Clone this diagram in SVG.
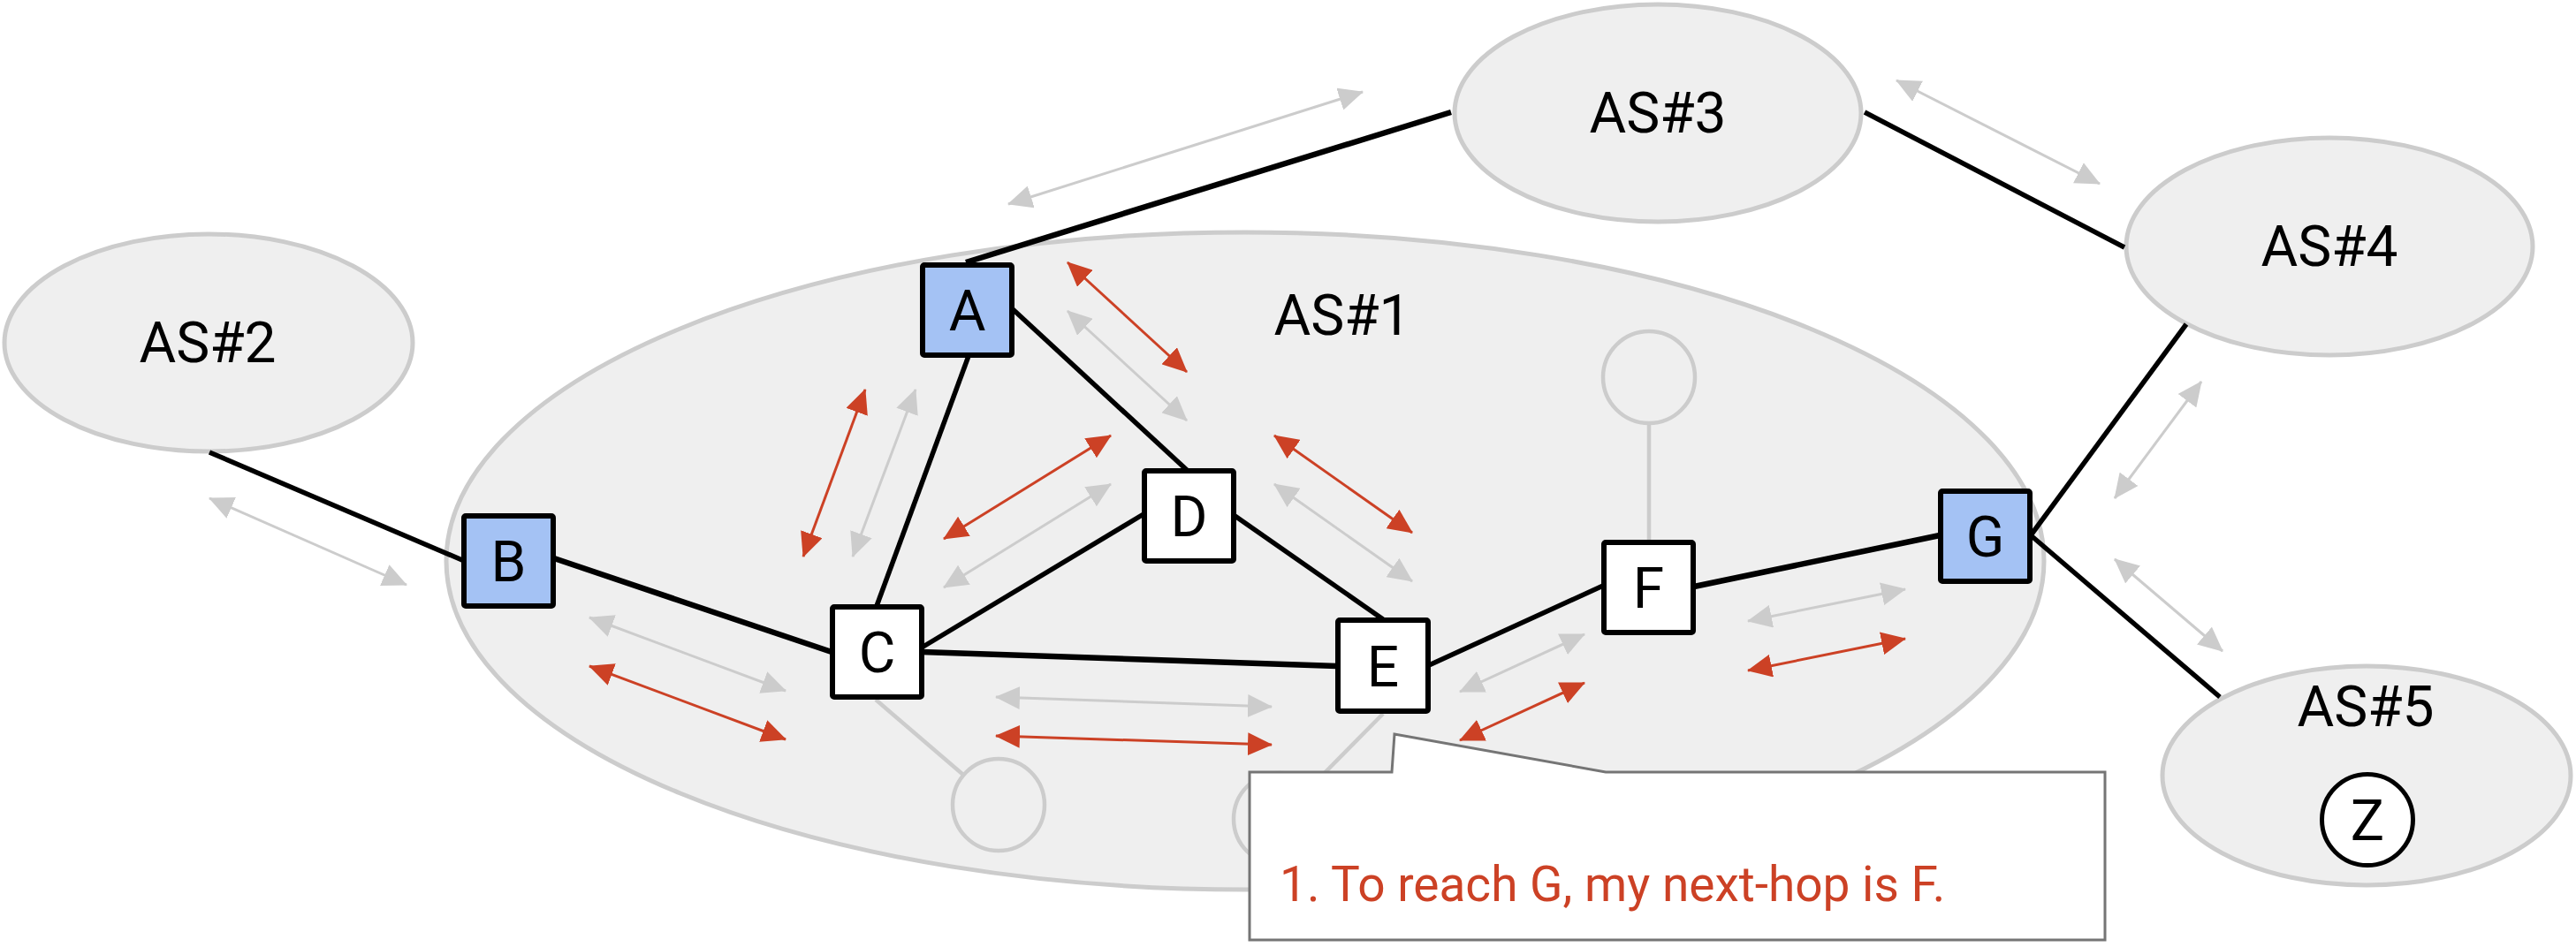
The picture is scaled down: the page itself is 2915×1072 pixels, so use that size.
<svg xmlns="http://www.w3.org/2000/svg" width="2915" height="1072" viewBox="0 0 2915 1072">
<style>
.as{fill:#efefef;stroke:#cccccc;stroke-width:5}
.sc{fill:#efefef;stroke:#cccccc;stroke-width:4.5}
.gl{stroke:#cccccc;stroke-width:4.5;fill:none}
.bl{stroke:#000;stroke-width:5.5;fill:none}
.bt{stroke:#000;stroke-width:6.5;fill:none}
.ag{stroke:#cccccc;stroke-width:3;fill:none;marker-start:url(#hg);marker-end:url(#hg)}
.ar{stroke:#cc4125;stroke-width:3;fill:none;marker-start:url(#hr);marker-end:url(#hr)}
.nb{fill:#a4c2f4;stroke:#000;stroke-width:6}
.nw{fill:#ffffff;stroke:#000;stroke-width:6}
.t{font-family:Roboto,"Liberation Sans",sans-serif;font-size:64px;fill:#000;text-anchor:middle}
.ct{font-family:Roboto,"Liberation Sans",sans-serif;font-size:55px;fill:#cc4125}
</style>
<defs>
<marker id="hg" viewBox="0 0 28 26" refX="27" refY="13" markerWidth="28" markerHeight="26" markerUnits="userSpaceOnUse" orient="auto-start-reverse"><path d="M0,0 L28,13 L0,26 z" fill="#cccccc"/></marker>
<marker id="hr" viewBox="0 0 28 26" refX="27" refY="13" markerWidth="28" markerHeight="26" markerUnits="userSpaceOnUse" orient="auto-start-reverse"><path d="M0,0 L28,13 L0,26 z" fill="#cc4125"/></marker>
</defs>
<g id="as1"><ellipse class="as" cx="1409" cy="635" rx="904" ry="372"/><text class="t" x="1519" y="379">AS#1</text></g>
<g id="as2"><ellipse class="as" cx="236" cy="388" rx="231" ry="123"/><text class="t" x="235" y="410">AS#2</text></g>
<g id="as3"><ellipse class="as" cx="1876" cy="128" rx="230" ry="123"/><text class="t" x="1876" y="150">AS#3</text></g>
<g id="as4"><ellipse class="as" cx="2636" cy="279" rx="230" ry="123"/><text class="t" x="2636" y="301">AS#4</text></g>
<g id="as5"><ellipse class="as" cx="2678" cy="878" rx="231" ry="124"/><text class="t" x="2677" y="822">AS#5</text></g>
<g id="z"><circle cx="2679" cy="928" r="51.5" fill="#fff" stroke="#000" stroke-width="5"/><text class="t" x="2679" y="951">Z</text></g>
<g id="stubs">
<line class="gl" x1="1866" y1="479" x2="1866" y2="611"/>
<line class="gl" x1="991" y1="792" x2="1090" y2="877"/>
<line class="gl" x1="1565" y1="808" x2="1484" y2="890"/>
</g>
<g id="c1"><circle class="sc" cx="1866" cy="427" r="52"/></g>
<g id="c2"><circle class="sc" cx="1130" cy="911" r="52"/></g>
<g id="c3"><circle class="sc" cx="1448" cy="927" r="52"/></g>
<g id="arrows">
<line class="ag" x1="1141" y1="231" x2="1542" y2="104"/>
<line class="ag" x1="2146" y1="91" x2="2376" y2="208"/>
<line class="ag" x1="2491" y1="432" x2="2393" y2="564"/>
<line class="ag" x1="2393" y1="633" x2="2515" y2="737"/>
<line class="ag" x1="237" y1="564" x2="460" y2="662"/>
<line class="ar" x1="1208" y1="297" x2="1343" y2="421"/>
<line class="ag" x1="1208" y1="352" x2="1343" y2="476"/>
<line class="ar" x1="979" y1="441" x2="909" y2="630"/>
<line class="ag" x1="1036" y1="441" x2="965" y2="630"/>
<line class="ar" x1="1257" y1="493" x2="1068" y2="610"/>
<line class="ag" x1="1257" y1="548" x2="1068" y2="665"/>
<line class="ar" x1="1442" y1="493" x2="1598" y2="603"/>
<line class="ag" x1="1442" y1="548" x2="1598" y2="658"/>
<line class="ag" x1="667" y1="699" x2="889" y2="782"/>
<line class="ar" x1="667" y1="754" x2="889" y2="837"/>
<line class="ag" x1="1127" y1="789" x2="1439" y2="800"/>
<line class="ar" x1="1127" y1="833" x2="1439" y2="843"/>
<line class="ag" x1="1652" y1="783" x2="1793" y2="718"/>
<line class="ar" x1="1652" y1="838" x2="1793" y2="773"/>
<line class="ag" x1="1978" y1="703" x2="2156" y2="667"/>
<line class="ar" x1="1978" y1="759" x2="2156" y2="723"/>
</g>
<g id="connectors">
<line class="bt" x1="1642" y1="127" x2="1093" y2="297"/>
<line class="bl" x1="2110" y1="127" x2="2404" y2="280"/>
<line class="bl" x1="237" y1="512" x2="523" y2="634"/>
<line class="bt" x1="627" y1="632" x2="941" y2="738"/>
<line class="bl" x1="1096" y1="403" x2="992" y2="686"/>
<line class="bl" x1="1146" y1="350" x2="1343" y2="532"/>
<line class="bl" x1="1043" y1="733" x2="1294" y2="582"/>
<line class="bt" x1="1043" y1="738" x2="1513" y2="754"/>
<line class="bl" x1="1396" y1="583" x2="1565" y2="701"/>
<line class="bl" x1="1617" y1="753" x2="1814" y2="663"/>
<line class="bt" x1="1917" y1="664" x2="2195" y2="606"/>
<line class="bl" x1="2298" y1="606" x2="2474" y2="367"/>
<line class="bl" x1="2298" y1="606" x2="2512" y2="789"/>
</g>
<g id="A"><rect class="nb" x="1044" y="300" width="101" height="102" rx="2"/><text class="t" x="1094.5" y="374">A</text></g>
<g id="B"><rect class="nb" x="525" y="584" width="101" height="102" rx="2"/><text class="t" x="575.5" y="658">B</text></g>
<g id="C"><rect class="nw" x="942" y="687" width="101" height="102" rx="2"/><text class="t" x="992.5" y="761">C</text></g>
<g id="D"><rect class="nw" x="1295" y="533" width="101" height="102" rx="2"/><text class="t" x="1345.5" y="607">D</text></g>
<g id="E"><rect class="nw" x="1514" y="702" width="102" height="103" rx="2"/><text class="t" x="1565" y="777">E</text></g>
<g id="F"><rect class="nw" x="1815" y="614" width="101" height="102" rx="2"/><text class="t" x="1865.5" y="688">F</text></g>
<g id="G"><rect class="nb" x="2196" y="556" width="101" height="102" rx="2"/><text class="t" x="2246.5" y="630">G</text></g>
<g id="callout"><path d="M1414,874 L1575,874 L1578,831 L1817,874 L2382,874 L2382,1064 L1414,1064 Z" fill="#fff" stroke="#757575" stroke-width="3"/><text class="ct" x="1448" y="1020">1. To reach G, my next-hop is F.</text></g>
</svg>
